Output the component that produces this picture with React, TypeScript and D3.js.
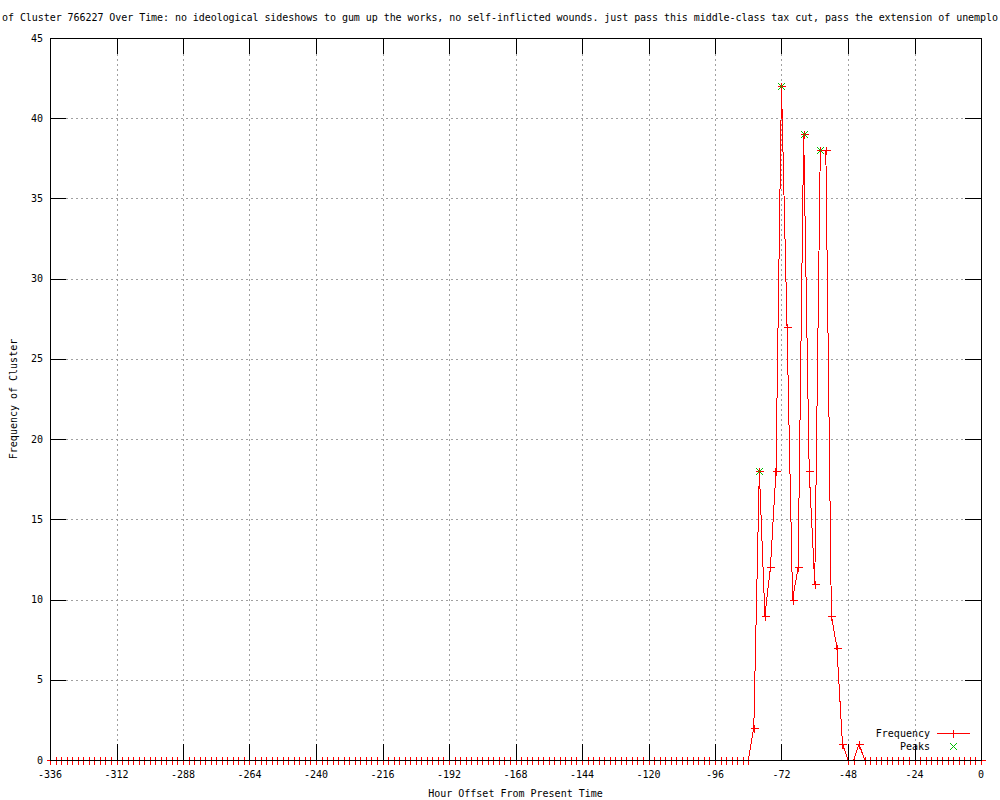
import React from "react";
import * as d3 from "d3";

// Hour offsets (categories): every 2 hours from -336 to 0
const hours: number[] = d3.range(-336, 1, 2);

// Frequency per 2-hour bucket (-336 .. 0)
const frequency: number[] = [
  0, 0, 0, 0, 0, 0, 0, 0, 0, 0, // -336 .. -318
  0, 0, 0, 0, 0, 0, 0, 0, 0, 0, // -316 .. -298
  0, 0, 0, 0, 0, 0, 0, 0, 0, 0, // -296 .. -278
  0, 0, 0, 0, 0, 0, 0, 0, 0, 0, // -276 .. -258
  0, 0, 0, 0, 0, 0, 0, 0, 0, 0, // -256 .. -238
  0, 0, 0, 0, 0, 0, 0, 0, 0, 0, // -236 .. -218
  0, 0, 0, 0, 0, 0, 0, 0, 0, 0, // -216 .. -198
  0, 0, 0, 0, 0, 0, 0, 0, 0, 0, // -196 .. -178
  0, 0, 0, 0, 0, 0, 0, 0, 0, 0, // -176 .. -158
  0, 0, 0, 0, 0, 0, 0, 0, 0, 0, // -156 .. -138
  0, 0, 0, 0, 0, 0, 0, 0, 0, 0, // -136 .. -118
  0, 0, 0, 0, 0, 0, 0, 0, 0, 0, // -116 .. -98
  0, 0, 0, 0, 0, 0, 0,          // -96 .. -84
  2, 18, 9, 12, 18, 42, 27, 10, 12, 39, // -82 .. -64
  18, 11, 38, 38, 9, 7, 1, 0, 0, 1,     // -62 .. -44
  0, 0, 0, 0, 0, 0, 0, 0, 0, 0, 0,      // -42 .. -22
  0, 0, 0, 0, 0, 0, 0, 0, 0, 0, 0,      // -20 .. 0
];

const peakHours: number[] = [-80, -72, -64, -58];
const peakValues: number[] = [18, 42, 39, 38];

const xTicks: number[] = [-336, -312, -288, -264, -240, -216, -192, -168, -144, -120, -96, -72, -48, -24, 0];
const yTicks: number[] = [0, 5, 10, 15, 20, 25, 30, 35, 40, 45];

// Visible part of the (clipped) title as shown in the reference
const titleText =
  "of Cluster 766227 Over Time: no ideological sideshows to gum up the works, no self-inflicted wounds. just pass this middle-class tax cut, pass the extension of unemplo";
const xLabel = "Hour Offset From Present Time";
const yLabel = "Frequency of Cluster";

const W = 1000;
const H = 800;
const L = 50;
const R = 981;
const T = 38;
const B = 760;
const FONT = "'DejaVu Sans Mono', 'Liberation Mono', monospace";

export default function App() {
  const x = d3.scaleLinear().domain([-336, 0]).range([L, R]);
  const y = d3.scaleLinear().domain([0, 45]).range([B, T]);
  const pts: [number, number][] = hours.map((h, i) => [h, frequency[i]]);
  const line = d3
    .line<[number, number]>()
    .x((d) => x(d[0]))
    .y((d) => y(d[1]));
  const red = "#ff0000";
  const green = "#00c000";
  const ms = 3.5;
  const px = (v: number) => Math.round(v) + 0.5;
  const plus = (cx: number, cy: number) => {
    const a = px(cx), b = px(cy);
    return `M${a - ms - 0.5},${b}H${a + ms + 0.5}M${a},${b - ms - 0.5}V${b + ms + 0.5}`;
  };
  const cross = (cx: number, cy: number) => {
    const a = Math.round(cx) + 0.5, b = Math.round(cy) + 0.5;
    return `M${a - ms},${b - ms}L${a + ms},${b + ms}M${a - ms},${b + ms}L${a + ms},${b - ms}`;
  };
  const tl = 16;

  return (
    <svg
      width={W}
      height={H}
      style={{ position: "absolute", left: 0, top: 0, background: "#fff", display: "block" }}
      fontFamily={FONT}
      fontSize={10}
    >
      <rect x={0} y={0} width={W} height={H} fill="#fff" />
      {/* grid */}
      <g stroke="#a0a0a0" strokeWidth={1} strokeDasharray="2,3" shapeRendering="crispEdges">
        {xTicks.slice(1, -1).map((t) => (
          <line key={"gx" + t} x1={px(x(t))} x2={px(x(t))} y1={T + tl} y2={B - tl} />
        ))}
        {yTicks.slice(1, -1).map((t) => (
          <line key={"gy" + t} x1={L + tl} x2={R - tl} y1={px(y(t))} y2={px(y(t))} />
        ))}
      </g>
      {/* data line */}
      <path d={line(pts) || ""} fill="none" stroke={red} strokeWidth={1} shapeRendering="crispEdges" />
      <g stroke={red} strokeWidth={1} shapeRendering="crispEdges">
        {pts.map((p, i) => (
          <path key={"m" + i} d={plus(x(p[0]), y(p[1]))} />
        ))}
      </g>
      <g stroke={green} strokeWidth={1} shapeRendering="crispEdges">
        {peakHours.map((h, i) => (
          <path key={"p" + i} d={cross(x(h), y(peakValues[i]))} />
        ))}
      </g>
      {/* border + ticks */}
      <g stroke="#000" strokeWidth={1} fill="none" shapeRendering="crispEdges">
        <rect x={L + 0.5} y={T + 0.5} width={R - L} height={B - T} />
        {xTicks.map((t) => {
          const p = px(x(t));
          return (
            <g key={"tx" + t}>
              <line x1={p} x2={p} y1={B} y2={B - tl} />
              <line x1={p} x2={p} y1={T} y2={T + tl} />
            </g>
          );
        })}
        {yTicks.map((t) => {
          const p = px(y(t));
          return (
            <g key={"ty" + t}>
              <line x1={L} x2={L + tl} y1={p} y2={p} />
              <line x1={R} x2={R - tl} y1={p} y2={p} />
            </g>
          );
        })}
      </g>
      {/* tick labels */}
      <g fill="#000">
        {xTicks.map((t) => (
          <text key={"lx" + t} x={x(t)} y={778} textAnchor="middle">
            {t}
          </text>
        ))}
        {yTicks.map((t) => (
          <text key={"ly" + t} x={43} y={y(t) + 3.5} textAnchor="end">
            {t}
          </text>
        ))}
      </g>
      {/* labels */}
      <text x={(L + R) / 2} y={797} textAnchor="middle" fill="#000">
        {xLabel}
      </text>
      <text transform={`translate(17,${(T + B) / 2}) rotate(-90)`} textAnchor="middle" fill="#000">
        {yLabel}
      </text>
      <text x={2} y={21} fill="#000" textLength={996} lengthAdjust="spacing">
        {titleText}
      </text>
      {/* legend */}
      <text x={930} y={737} textAnchor="end" fill="#000">Frequency</text>
      <text x={930} y={750} textAnchor="end" fill="#000">Peaks</text>
      <line x1={937} x2={970} y1={733.5} y2={733.5} stroke={red} strokeWidth={1} shapeRendering="crispEdges" />
      <path d={plus(953, 733)} stroke={red} strokeWidth={1} shapeRendering="crispEdges" />
      <path d={cross(953, 746)} stroke={green} strokeWidth={1} shapeRendering="crispEdges" />
    </svg>
  );
}
